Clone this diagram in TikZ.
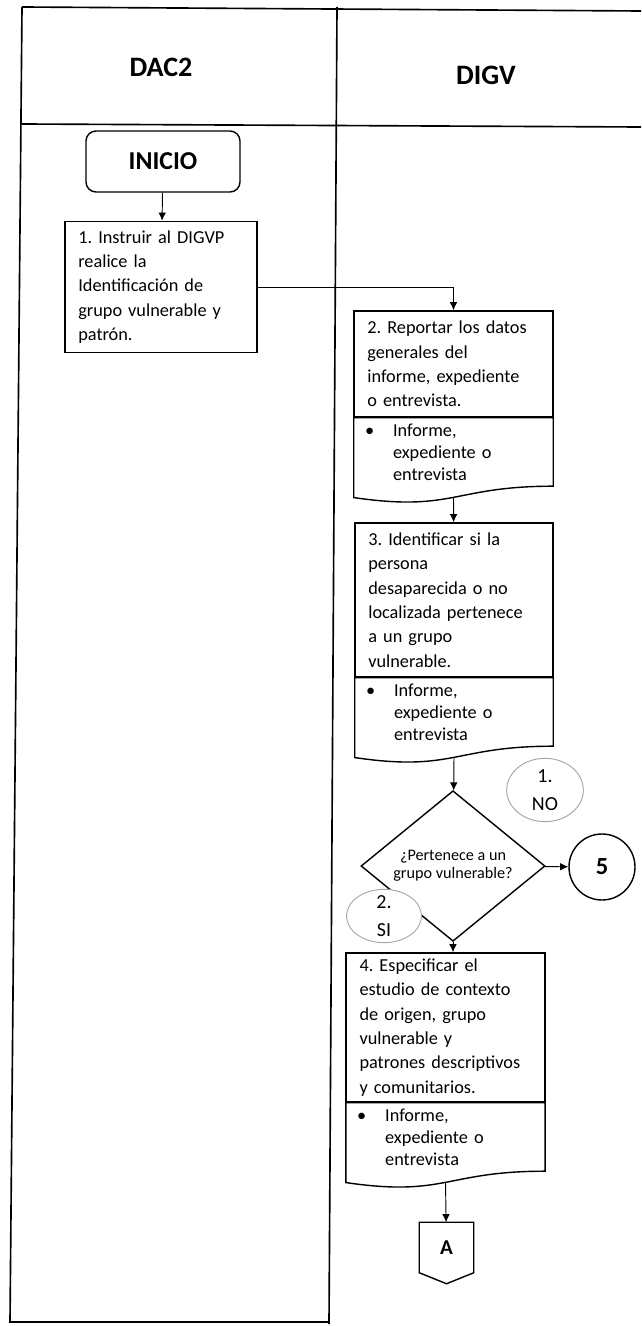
\documentclass[tikz,border=0pt]{standalone}
\usepackage{fontspec}
\setmainfont{Carlito}
\usepackage{tikz}
\usetikzlibrary{shapes.geometric,arrows.meta,calc}
\frenchspacing
\tikzstyle{lane} = [line width=1.4pt]
\tikzstyle{title} = [font=\fontsize{24}{28}\selectfont\bfseries]
\tikzstyle{startstop} = [rectangle, rounded corners=0.3cm, minimum width=4.62cm, minimum height=1.83cm, draw=black, line width=1.2pt, font=\fontsize{22}{26}\selectfont\bfseries]
\tikzstyle{process} = [rectangle, draw=black, line width=1.2pt, inner xsep=0.4cm, align=left, font=\fontsize{15.6}{20.8}\selectfont]
\tikzstyle{docpart} = [rectangle, anchor=north, minimum height=2.04cm, inner xsep=0.33cm, align=left, font=\fontsize{15.6}{18.8}\selectfont]
\tikzstyle{decision} = [diamond, draw=black, line width=1.2pt, minimum width=5.52cm, minimum height=4.08cm, inner sep=0pt, align=center, font=\fontsize{13.8}{15.5}\selectfont]
\tikzstyle{connector} = [circle, draw=black, line width=1.2pt, minimum size=1.98cm, font=\fontsize{21}{24}\selectfont\bfseries]
\tikzstyle{offpage} = [rectangle, minimum width=1.62cm, minimum height=1.5cm, inner sep=0pt, font=\fontsize{18}{22}\selectfont\bfseries]
\tikzstyle{answer} = [ellipse, draw=black!35, fill=white, line width=0.8pt, inner xsep=0pt, inner ysep=-8pt, align=center, font=\fontsize{17}{24}\selectfont]
\tikzstyle{arrow} = [line width=0.8pt,-{Latex[length=7pt,width=6.5pt]}]

% bullet list under every step
\newcommand{\docitem}{\makebox[0.84cm][l]{\textbullet}Informe,\\\hspace*{0.84cm}expediente o\\\hspace*{0.84cm}entrevista}
% document outline with wavy bottom
\newcommand{\docshape}[1]{\draw[line width=1.2pt] (#1.north west) -- (#1.north east) -- (#1.south east)
  .. controls (#1.south) and ($(#1.south)+(0,26)$) .. ($(#1.south west)+(0,11.4)$) -- cycle;
  \coordinate (#1b) at ($(#1.south)+(0,11)$);}

\begin{document}
\begin{tikzpicture}[x=0.03cm, y=-0.03cm]
\useasboundingbox (0,0) rectangle (641,1326);

% lanes
\draw [lane] (22,7) -- (641,11);
\draw [lane] (22,124) -- (641,127);
\draw [lane] (22,7) -- (10,1322) -- (329,1322);
\draw [lane] (337,7) -- (329,1324);
\node (dac) [title] at (161,67) {DAC2};
\node (digv) [title] at (486,75) {DIGV};

\node (inicio) [startstop] at (163,161.5) {INICIO};
\node (s1) [process, text width=4.96cm, minimum height=3.93cm] at (161,287) {1. Instruir al DIGVP\\realice la\\Identificación de\\grupo vulnerable y\\patrón.};

\node (s2) [process, text width=5.17cm, minimum height=3.18cm] at (453.5,364) {2. Reportar los datos\\generales del\\informe, expediente\\o entrevista.};
\node (d2) [docpart, text width=5.31cm] at (s2.south) {\docitem};
\docshape{d2}

\node (s3) [process, text width=5.14cm, minimum height=4.62cm] at (454,600) {3. Identificar si la\\persona\\desaparecida o no\\localizada pertenece\\a un grupo\\vulnerable.};
\node (d3) [docpart, text width=5.28cm] at (s3.south) {\docitem};
\docshape{d3}

\node (dec) [decision] at (453,866) {¿Pertenece a un\\grupo vulnerable?};
\node (five) [connector] at (602,867) {5};
\node (no) [answer, minimum width=2.3cm, minimum height=1.9cm] at (545,790) {1.\\NO};

\node (s4) [process, text width=5.16cm, minimum height=4.47cm] at (445.5,1027.5) {4. Especificar el\\estudio de contexto\\de origen, grupo\\vulnerable y\\patrones descriptivos\\y comunitarios.};
\node (d4) [docpart, text width=5.3cm] at (s4.south) {\docitem};
\docshape{d4}

\node (A) [offpage] at (446.5,1247.5) {A};
\draw [line width=1.2pt] (A.north west) -- (A.north east) -- (A.south east) -- ($(A.south)+(0,11)$) -- (A.south west) -- cycle;

\draw [arrow] (inicio) -- (s1);
\draw [arrow] (s1.east) -| (s2.north);
\draw [arrow] (d2b) -- (s3);
\draw [arrow] (d3b) -- (dec);
\draw [arrow] (dec) -- (five);
\draw [arrow] (dec.south) -- (dec.south |- s4.north);
\draw [arrow] (d4b) -- (A);

\node (si) [answer, minimum width=2.25cm, minimum height=1.6cm] at (384,916) {2.\\SI};
\end{tikzpicture}
\end{document}
